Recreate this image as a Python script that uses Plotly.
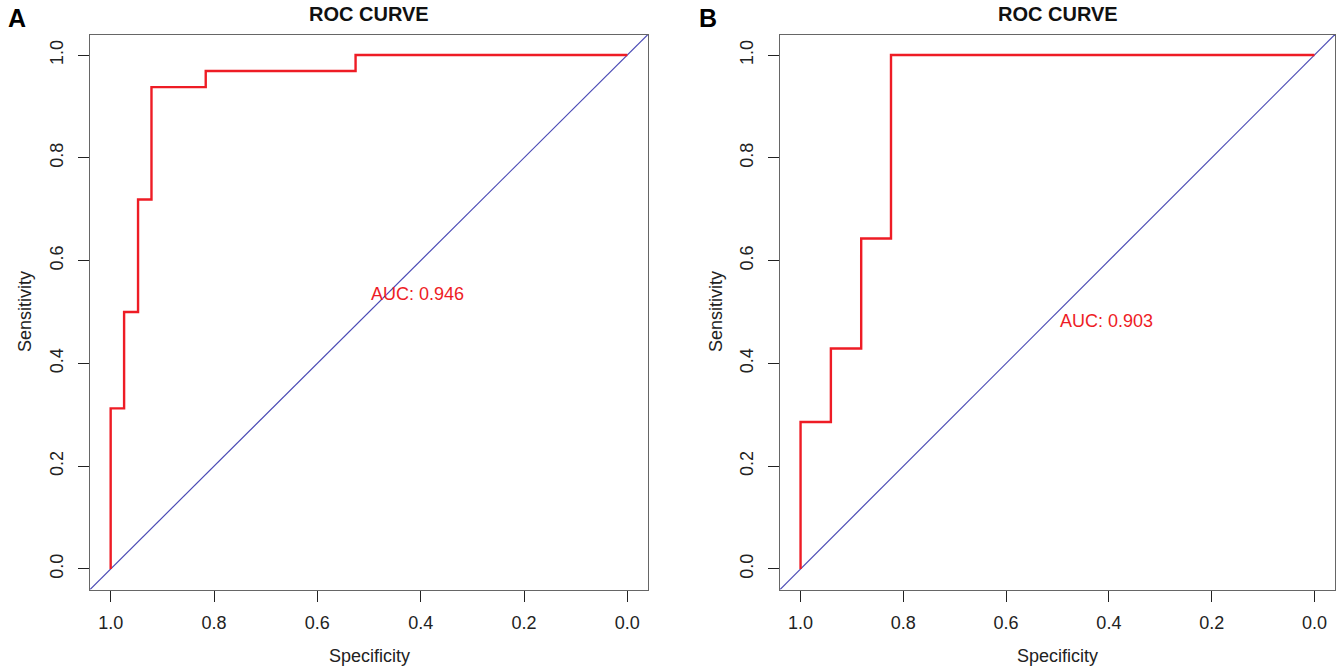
import plotly.graph_objects as go

# ---- data ----
spec_a = [1.0, 1.0, 0.974, 0.974, 0.947, 0.947, 0.921, 0.921, 0.816, 0.816, 0.526, 0.526, 0.0]
sens_a = [0.0, 0.3125, 0.3125, 0.5, 0.5, 0.719, 0.719, 0.9375, 0.9375, 0.969, 0.969, 1.0, 1.0]
spec_b = [1.0, 1.0, 0.941, 0.941, 0.882, 0.882, 0.824, 0.824, 0.0]
sens_b = [0.0, 0.286, 0.286, 0.429, 0.429, 0.643, 0.643, 1.0, 1.0]
auc_labels = ["AUC: 0.946", "AUC: 0.903"]
auc_pos = [(0.5, 0.535), (0.5, 0.482)]
panel_letters = ["A", "B"]
tick_vals = [0.0, 0.2, 0.4, 0.6, 0.8, 1.0]
tick_text = ["0.0", "0.2", "0.4", "0.6", "0.8", "1.0"]
axis_range = [-0.04, 1.04]

FONT = "Liberation Sans, Arial, sans-serif"
RED = "#ee1c25"
BLUE = "#4b4bb5"

W, H = 1341, 671

def px(x):
    return x / W

def py(y):
    return 1 - y / H

fig = go.Figure()

for i, ax in enumerate(["", "2"]):
    fig.add_trace(go.Scatter(x=[axis_range[1], axis_range[0]], y=[axis_range[0], axis_range[1]],
                             mode="lines", line=dict(color=BLUE, width=1.2),
                             xaxis="x" + ax, yaxis="y" + ax, showlegend=False, hoverinfo="skip"))

fig.add_trace(go.Scatter(x=spec_a, y=sens_a, mode="lines", line=dict(color=RED, width=2.4),
                         xaxis="x", yaxis="y", showlegend=False))
fig.add_trace(go.Scatter(x=spec_b, y=sens_b, mode="lines", line=dict(color=RED, width=2.4),
                         xaxis="x2", yaxis="y2", showlegend=False))

x_domains = [[px(90), px(648)], [px(780), px(1335)]]
y_domain = [py(589.5), py(34.5)]

def xaxis_cfg(dom, anchor):
    return dict(domain=dom, anchor=anchor, range=[axis_range[1], axis_range[0]],
                tickvals=tick_vals, ticktext=tick_text, ticks="outside", ticklen=11,
                tickwidth=1, tickcolor="#222", showline=True, linecolor="#666", linewidth=1.2,
                mirror=True, showgrid=False, zeroline=False,
                tickfont=dict(family=FONT, size=18, color="#222"), ticklabelstandoff=6)

def yaxis_cfg(anchor):
    return dict(domain=y_domain, anchor=anchor, range=axis_range,
                tickvals=tick_vals, ticktext=tick_text, ticks="outside", ticklen=11,
                tickwidth=1, tickcolor="#222", showline=True, linecolor="#666", linewidth=1.2,
                mirror=True, showgrid=False, zeroline=False, tickangle=-90,
                tickfont=dict(family=FONT, size=18, color="#222"), ticklabelstandoff=8)

annotations = []
centers = [px((90 + 648) / 2), px((780 + 1335) / 2)]
letter_x = [px(17), px(708)]
sens_x = [px(25), px(716)]
for i in range(2):
    xr = "x" if i == 0 else "x2"
    yr = "y" if i == 0 else "y2"
    annotations.append(dict(text="<b>ROC CURVE</b>", x=centers[i], y=py(14), xref="paper", yref="paper",
                            showarrow=False, xanchor="center", yanchor="middle",
                            font=dict(family=FONT, size=20, color="#111")))
    annotations.append(dict(text="<b>" + panel_letters[i] + "</b>", x=letter_x[i], y=py(18),
                            xref="paper", yref="paper", showarrow=False, xanchor="center", yanchor="middle",
                            font=dict(family=FONT, size=25, color="#000")))
    annotations.append(dict(text="Specificity", x=centers[i], y=py(656), xref="paper", yref="paper",
                            showarrow=False, xanchor="center", yanchor="middle",
                            font=dict(family=FONT, size=18, color="#222")))
    annotations.append(dict(text="Sensitivity", x=sens_x[i], y=py(312), xref="paper", yref="paper",
                            showarrow=False, xanchor="center", yanchor="middle", textangle=-90,
                            font=dict(family=FONT, size=18, color="#222")))
    annotations.append(dict(text=auc_labels[i], x=auc_pos[i][0], y=auc_pos[i][1], xref=xr, yref=yr,
                            showarrow=False, xanchor="left", yanchor="middle",
                            font=dict(family=FONT, size=18, color=RED)))

fig.update_layout(
    width=W, height=H,
    margin=dict(l=0, r=0, t=0, b=0),
    paper_bgcolor="white", plot_bgcolor="white",
    hovermode=False,
    xaxis=xaxis_cfg(x_domains[0], "y"),
    yaxis=yaxis_cfg("x"),
    xaxis2=xaxis_cfg(x_domains[1], "y2"),
    yaxis2=yaxis_cfg("x2"),
    annotations=annotations,
)

# remove the default 8px page margin so the figure fills the window exactly
fig.write_html("out.html", config={"displayModeBar": False},
               post_script="document.body.style.margin='0px';")
